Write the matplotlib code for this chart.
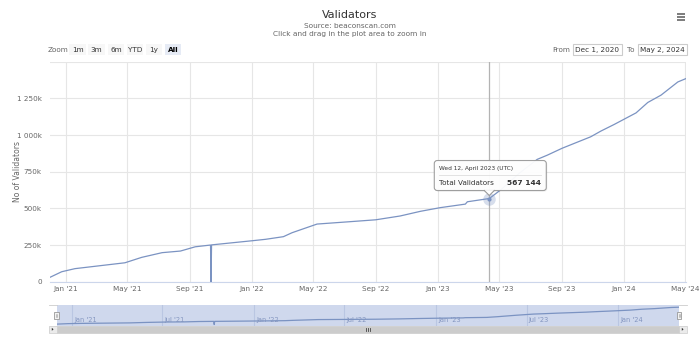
import matplotlib
matplotlib.use("Agg")
import matplotlib.pyplot as plt
import matplotlib.dates as mdates
import matplotlib.transforms as mtransforms
from matplotlib.patches import FancyBboxPatch, Rectangle, Polygon
import numpy as np
import pandas as pd

# values (total validators, thousands)
dates = ["2020-12-01", "2020-12-24", "2021-01-19", "2021-04-27", "2021-05-30",
         "2021-07-09", "2021-08-14", "2021-09-12", "2021-10-12", "2021-10-13",
         "2021-10-14", "2022-01-01", "2022-01-28", "2022-03-04", "2022-03-21",
         "2022-05-09", "2022-07-12", "2022-09-01", "2022-10-19", "2022-11-28",
         "2023-01-06", "2023-02-24", "2023-02-28", "2023-04-12", "2023-05-04",
         "2023-06-10", "2023-07-15", "2023-08-04", "2023-09-02", "2023-10-28",
         "2023-11-17", "2023-12-13", "2024-01-25", "2024-02-17", "2024-03-14",
         "2024-04-16", "2024-05-02"]
validators_k = [30, 68, 89, 129, 166,
                198, 209, 238, 250, 0,
                251, 279, 289, 307, 334,
                393, 409, 422, 448, 480,
                505, 529, 545, 567.144, 625,
                740, 834, 863, 910, 988,
                1027, 1072, 1151, 1222, 1272,
                1362, 1385]

y_ticks = [0, 250, 500, 750, 1000, 1250, 1500]
y_tick_labels = ["0", "250k", "500k", "750k", "1 000k", "1 250k", ""]
range_buttons = ["1m", "3m", "6m", "YTD", "1y", "All"]
range_from = "Dec 1, 2020"
range_to = "May 2, 2024"
hover_date = "2023-04-12"
hover_value = 567144

W, H = 700, 343
line_color = "#7b93c2"
grid_color = "#e6e6e6"


def box(x0, y0, x1, y1):
    # pixel box with top-left origin -> figure rect
    return [x0 / W, 1 - y1 / H, (x1 - x0) / W, (y1 - y0) / H]


fig = plt.figure(figsize=(7, 3.43), dpi=100)

x = mdates.date2num(pd.to_datetime(dates))
y = np.array(validators_k) * 1000
x_start = mdates.date2num(pd.Timestamp("2020-12-01"))
x_end = mdates.date2num(pd.Timestamp("2024-05-02"))

# main chart
ax = fig.add_axes(box(50, 61.7, 686, 281.7))
ax.plot(x, y, color=line_color, lw=0.9, zorder=3)
ax.set_xlim(x_start, x_end)
ax.set_ylim(0, 1500000)
ax.set_yticks([v * 1000 for v in y_ticks])
ax.set_yticklabels(y_tick_labels)
ax.xaxis.set_major_locator(mdates.MonthLocator(bymonth=(1, 5, 9)))
ax.xaxis.set_major_formatter(mdates.DateFormatter("%b '%y"))
ax.grid(True, color=grid_color, lw=0.8)
ax.set_axisbelow(True)
for s in ["top", "right", "left"]:
    ax.spines[s].set_visible(False)
ax.spines["bottom"].set_color("#ccd6eb")
ax.spines["bottom"].set_linewidth(0.8)
ax.tick_params(axis="y", length=0, pad=6, labelsize=5.2, labelcolor="#666666")
ax.tick_params(axis="x", length=0, pad=3, labelsize=5.2, labelcolor="#666666")

hx = mdates.date2num(pd.Timestamp(hover_date))
ax.axvline(hx, color="#b3b3b3", lw=0.9, zorder=2)
ax.plot(hx, hover_value, "o", ms=9, color=line_color, alpha=0.3, mec="none", zorder=4)
ax.plot(hx, hover_value, "o", ms=2, color=line_color, zorder=5)

# navigator
nav = fig.add_axes(box(56.5, 305, 679.3, 325.7))
nav.set_facecolor("#cfd8ed")
nav.plot(x, y, color=line_color, lw=0.9)
nav.set_xlim(x_start, x_end)
nav.set_ylim(-96000, 1560000)
nav.set_xticks([])
nav.set_yticks([])
for s in nav.spines.values():
    s.set_visible(False)
lbl_tr = mtransforms.offset_copy(nav.get_xaxis_transform(), fig=fig, x=2, y=0, units="dots")
for ts_ in pd.date_range("2021-01-01", "2024-05-01", freq="6MS"):
    t = mdates.date2num(ts_)
    nav.axvline(t, color="#bac6e2", lw=0.8, zorder=0)
    nav.text(t, 0.27, ts_.strftime("%b '%y"), transform=lbl_tr,
             fontsize=4.8, color="#8496c0", va="center", ha="left")

# overlay for titles, buttons, tooltip
ui = fig.add_axes([0, 0, 1, 1], zorder=10)
ui.set_xlim(0, W)
ui.set_ylim(H, 0)
ui.axis("off")
ui.patch.set_visible(False)

ui.text(350, 15, "Validators", ha="center", va="center", fontsize=8, color="#333333")
ui.text(350, 26.3, "Source: beaconscan.com", ha="center", va="center", fontsize=5.3, color="#666666")
ui.text(350, 33.7, "Click and drag in the plot area to zoom in", ha="center", va="center",
        fontsize=5.3, color="#666666")
ui.text(17, 171, "No of Validators", rotation=90, ha="center", va="center",
        fontsize=5.5, color="#666666")

# hamburger menu
for yy in (14.3, 17, 19.7):
    ui.plot([676.5, 685], [yy, yy], color="#666666", lw=1.2, solid_capstyle="butt")

# range selector
ui.text(58, 49.5, "Zoom", ha="center", va="center", fontsize=5.2, color="#666666")
bx = [69, 88, 108, 127, 146, 165]
bw = [17, 17, 16, 16, 16, 16]
for lab, b0, w in zip(range_buttons, bx, bw):
    sel = lab == "All"
    ui.add_patch(Rectangle((b0, 44.3), w, 10.7, fc="#e6ebf5" if sel else "#f7f7f7", ec="none"))
    ui.text(b0 + w / 2, 49.7, lab, ha="center", va="center", fontsize=5.2,
            color="#000000" if sel else "#333333", fontweight="bold" if sel else "normal")

ui.text(561.5, 49.7, "From", ha="center", va="center", fontsize=5.2, color="#666666")
ui.add_patch(Rectangle((572.7, 44.3), 49, 10.7, fc="white", ec="#cccccc", lw=0.8))
ui.text(597.2, 49.7, range_from, ha="center", va="center", fontsize=5.2, color="#333333")
ui.text(631, 49.7, "To", ha="center", va="center", fontsize=5.2, color="#666666")
ui.add_patch(Rectangle((638.3, 44.3), 49, 10.7, fc="white", ec="#cccccc", lw=0.8))
ui.text(662.8, 49.7, range_to, ha="center", va="center", fontsize=5.2, color="#333333")

# scrollbar
ui.add_patch(Rectangle((49.3, 325.7), 637.4, 7.3, fc="#f2f2f2", ec="none"))
ui.add_patch(Rectangle((56.5, 325.9), 622.8, 6.9, fc="#cccccc", ec="#cccccc", lw=0.5))
for b0 in (49.3, 679.3):
    ui.add_patch(Rectangle((b0, 325.9), 7.2, 6.9, fc="#ebebeb", ec="#cccccc", lw=0.5))
ui.add_patch(Polygon([[51.8, 327.8], [51.8, 330.8], [53.6, 329.3]], closed=True, fc="#333333", ec="none"))
ui.add_patch(Polygon([[681.8, 327.8], [681.8, 330.8], [683.6, 329.3]], closed=True, fc="#333333", ec="none"))
for gx in (366.3, 367.9, 369.5):
    ui.plot([gx, gx], [327.6, 331.2], color="#444444", lw=0.6)

# navigator handles
for hxp in (56.5, 679.3):
    ui.add_patch(Rectangle((hxp - 2.2, 311.5), 4.4, 7.5, fc="#f2f2f2", ec="#999999", lw=0.6))
    ui.plot([hxp - 0.6, hxp - 0.6], [313.5, 317], color="#999999", lw=0.4)
    ui.plot([hxp + 0.6, hxp + 0.6], [313.5, 317], color="#999999", lw=0.4)
ui.plot([49.3, 56.5], [305, 305], color="#cccccc", lw=0.6)
ui.plot([679.3, 686.7], [305, 305], color="#cccccc", lw=0.6)

# tooltip anchored to the hovered point
px, py = ax.transData.transform((hx, hover_value))
ax_px, ay_px = px, H - py
tx0, tx1 = ax_px - 55, ax_px + 57
ty0, ty1 = ay_px - 38, ay_px - 8
ui.add_patch(FancyBboxPatch((tx0 + 1, ty0 + 1), tx1 - tx0, ty1 - ty0,
                            boxstyle="round,pad=0,rounding_size=3", fc="#000000", alpha=0.08, ec="none"))
ui.add_patch(FancyBboxPatch((tx0, ty0), tx1 - tx0, ty1 - ty0,
                            boxstyle="round,pad=0,rounding_size=3", fc="white", alpha=0.95,
                            ec="#9a9a9a", lw=0.8))
ui.add_patch(Polygon([[ax_px - 5, ty1 - 0.4], [ax_px + 5, ty1 - 0.4], [ax_px, ay_px - 3]],
                     closed=True, fc="white", ec="none"))
ui.plot([ax_px - 5, ax_px, ax_px + 5], [ty1, ay_px - 3, ty1], color="#9a9a9a", lw=0.8)

ts = pd.Timestamp(hover_date)
ui.text(tx0 + 5, ty0 + 8, ts.strftime("%a %d, %B %Y") + " (UTC)", fontsize=4.2,
        color="#333333", va="center", ha="left")
ui.plot([tx0 + 5, tx1 - 5], [ty0 + 14.5, ty0 + 14.5], color="#dddddd", lw=0.6)
ui.text(tx0 + 5, ty0 + 22, "Total Validators", fontsize=5.2, color="#333333", va="center", ha="left")
ui.text(tx1 - 5, ty0 + 22.3, f"{hover_value:,}".replace(",", " "), fontsize=5.4,
        color="#333333", fontweight="bold", va="center", ha="right")

fig.savefig("out.png", dpi=100)
